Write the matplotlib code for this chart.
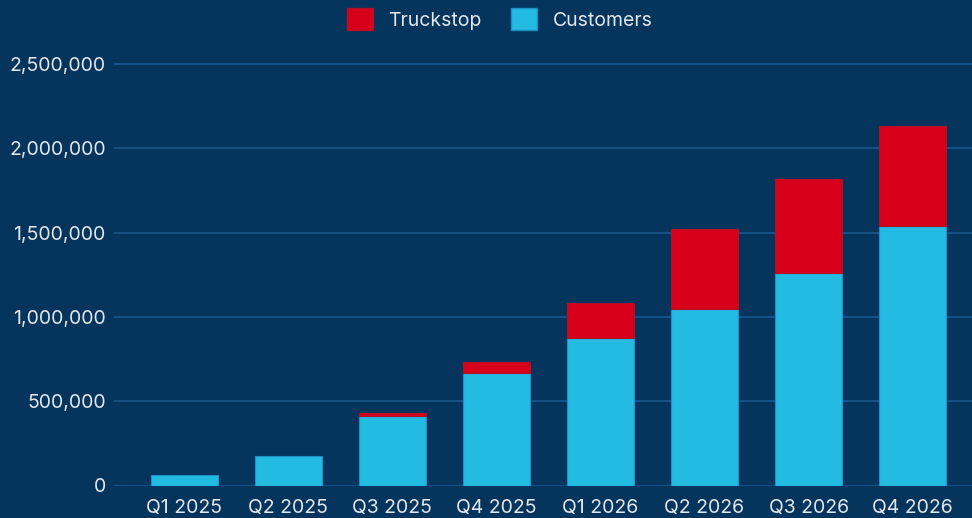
import matplotlib
matplotlib.use("Agg")
import matplotlib.pyplot as plt
from matplotlib.patches import Patch
from matplotlib.ticker import FuncFormatter
import numpy as np

quarters = ["Q1 2025", "Q2 2025", "Q3 2025", "Q4 2025",
            "Q1 2026", "Q2 2026", "Q3 2026", "Q4 2026"]
customers = [62000, 177000, 414000, 665000, 873000, 1048000, 1260000, 1541000]
truckstop = [0, 0, 18000, 67000, 209000, 473000, 558000, 593000]

bg = "#05355c"
grid_col = "#17578f"
text_col = "#e3e6ea"
cyan = "#23bbe2"
red = "#d7001b"

plt.rcParams["font.family"] = ["Inter", "DejaVu Sans"]

fig = plt.figure(figsize=(9.72, 5.18), dpi=100, facecolor=bg)
ax = fig.add_axes([114 / 972, 32.5 / 518, 858 / 972, 426 / 518])
ax.set_facecolor(bg)

x = np.arange(len(quarters))
w = 0.645
ax.bar(x, customers, w, color=cyan, edgecolor="#1d8fc4", linewidth=0.8, zorder=3)
# only stack the red part where there is something to show
ts = np.array(truckstop)
nz = ts > 0
ax.bar(x[nz], ts[nz], w, bottom=np.array(customers)[nz], color=red,
       edgecolor="#b3102a", linewidth=0.8, zorder=3)

ax.set_xlim(-0.675, 7.57)
ax.set_ylim(0, 2528000)
ax.set_yticks(np.arange(0, 2500001, 500000))
ax.yaxis.set_major_formatter(FuncFormatter(lambda v, p: f"{v:,.0f}"))
ax.set_xticks(x)
ax.set_xticklabels(quarters)

ax.grid(axis="y", color=grid_col, linewidth=1.2, zorder=0)
for s in ax.spines.values():
    s.set_visible(False)
ax.tick_params(axis="both", length=0, colors=text_col, labelsize=14)
ax.tick_params(axis="y", pad=6)
ax.tick_params(axis="x", pad=10)

handles = [Patch(facecolor=red, edgecolor="#b3102a", label="Truckstop"),
           Patch(facecolor=cyan, edgecolor="#1d8fc4", label="Customers")]
fig.legend(handles=handles, loc="center", bbox_to_anchor=(0.514, 1 - 19 / 518),
           ncol=2, frameon=False, fontsize=14, labelcolor=text_col,
           handlelength=1.35, handleheight=1.3, handletextpad=0.8,
           columnspacing=1.5)

fig.savefig("out.png", dpi=100, facecolor=bg)
